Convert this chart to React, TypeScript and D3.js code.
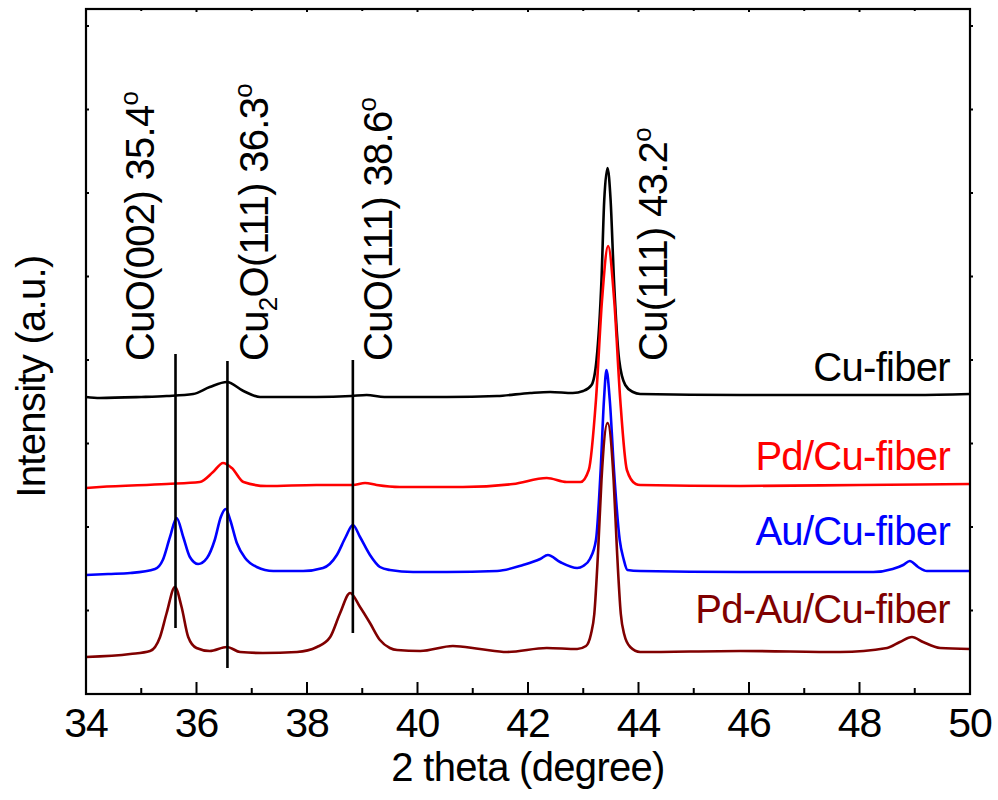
import React from 'react';
import * as d3 from 'd3';

// 2 theta (degree) vs intensity (a.u., offset stacked traces)
const thetaMajor = [34, 36, 38, 40, 42, 44, 46, 48, 50];
const thetaMinor = [35, 37, 39, 41, 43, 45, 47, 49];
const intensityTicks = [83.5, 167, 250.5, 334, 417.5, 501, 584.5, 668];

const cuFiber: [number, number][] = [
  [34.0, 297], [34.25, 296], [35.0, 297], [35.46, 298], [35.94, 300], [36.24, 307],
  [36.55, 312], [36.85, 303], [37.15, 297], [38.17, 297], [38.8, 298], [39.08, 299],
  [39.4, 297], [40.53, 297], [41.44, 298], [42.04, 301], [42.4, 302], [42.81, 301],
  [43.0, 303], [43.15, 309], [43.24, 334], [43.33, 414], [43.38, 494], [43.44, 526],
  [43.495, 494], [43.556, 414], [43.65, 334], [43.76, 309], [43.9, 302], [44.03, 300],
  [45.84, 299], [47.5, 299], [49.0, 299], [50.0, 300],
];

const pdCuFiber: [number, number][] = [
  [34.0, 206], [34.25, 207], [35.46, 210], [36.06, 212], [36.3, 222], [36.48, 231],
  [36.64, 226], [36.85, 212], [37.27, 208], [38.17, 209], [38.83, 209], [39.05, 211],
  [39.26, 209], [39.68, 207], [40.82, 207], [41.73, 210], [42.34, 216], [42.7, 212],
  [42.95, 212], [43.1, 224], [43.23, 294], [43.34, 394], [43.45, 448], [43.56, 394],
  [43.67, 294], [43.79, 224], [43.95, 210], [44.03, 209], [45.84, 208], [48.0, 209],
  [50.0, 210],
];

const auCuFiber: [number, number][] = [
  [34.0, 119], [34.4, 120], [34.8, 121], [35.25, 125], [35.39, 134], [35.52, 157],
  [35.64, 176], [35.76, 157], [35.88, 137], [36.03, 130], [36.19, 136], [36.33, 154],
  [36.44, 177], [36.53, 185], [36.61, 174], [36.73, 151], [36.88, 136], [37.09, 127],
  [37.39, 123], [37.93, 123], [38.29, 126], [38.54, 139], [38.7, 157], [38.83, 169],
  [38.96, 157], [39.14, 139], [39.32, 127], [39.5, 124], [39.92, 122], [40.53, 122],
  [41.44, 123], [41.91, 129], [42.22, 135], [42.36, 139], [42.58, 132], [42.89, 126],
  [43.0, 128], [43.12, 135], [43.23, 154], [43.315, 224], [43.375, 294], [43.42, 324],
  [43.48, 294], [43.556, 224], [43.66, 154], [43.73, 135], [43.8, 124], [44.03, 123],
  [45.84, 122], [47.05, 122], [48.25, 122], [48.6, 125], [48.79, 129], [48.91, 133],
  [49.06, 127], [49.22, 123], [50.0, 123],
];

const pdAuCuFiber: [number, number][] = [
  [34.0, 37], [34.8, 40], [35.16, 43], [35.34, 57], [35.46, 81], [35.61, 107],
  [35.73, 87], [35.85, 57], [36.0, 46], [36.24, 43], [36.55, 47], [36.79, 42],
  [37.2, 41], [37.82, 42], [38.18, 47], [38.42, 57], [38.6, 81], [38.78, 101],
  [38.96, 87], [39.14, 71], [39.32, 54], [39.5, 46], [39.63, 44], [40.05, 43],
  [40.64, 48], [41.13, 45], [41.62, 42], [42.34, 46], [42.89, 45], [43.05, 48],
  [43.14, 60], [43.2, 80], [43.27, 144], [43.33, 214], [43.44, 271], [43.55, 214],
  [43.61, 144], [43.68, 80], [43.74, 60], [43.85, 47], [44.03, 42], [45.84, 43],
  [47.65, 42], [48.5, 46], [48.73, 52], [48.95, 57], [49.15, 52], [49.46, 46],
  [50.0, 45],
];

// reference lines: theta, top, bottom (a.u.)
const refLines: [number, number, number][] = [
  [35.62, 340, 66],
  [36.56, 333, 26],
  [38.83, 334, 61],
];

const series = [
  { name: 'Cu-fiber', color: '#000000', data: cuFiber, labelAt: 313 },
  { name: 'Pd/Cu-fiber', color: '#ff0000', data: pdCuFiber, labelAt: 224 },
  { name: 'Au/Cu-fiber', color: '#0000ff', data: auCuFiber, labelAt: 149 },
  { name: 'Pd-Au/Cu-fiber', color: '#800000', data: pdAuCuFiber, labelAt: 71 },
];

const W = 998;
const H = 800;
const margin = { top: 9, right: 28, bottom: 106, left: 86 };
const font = '"Liberation Sans", Arial, sans-serif';
const fs = 40;
const ls = -0.7;

export default function App() {
  const x = d3.scaleLinear().domain([34, 50]).range([margin.left, W - margin.right]);
  const y = d3.scaleLinear().domain([0, 685]).range([H - margin.bottom, margin.top]);
  const line = d3
    .line<[number, number]>()
    .x(d => x(d[0]))
    .y(d => y(d[1]))
    .curve(d3.curveMonotoneX);

  const x0 = x(34);
  const x1 = x(50);
  const y0 = y(0);
  const y1 = y(685);

  const labelStart = y(333);
  const peakLabels = [
    { theta: 35.23, parts: ['CuO(002) 35.4'] },
    { theta: 37.29, parts: ['Cu', '2', 'O(111) 36.3'] },
    { theta: 39.54, parts: ['CuO(111) 38.6'] },
    { theta: 44.52, parts: ['Cu(111) 43.2'] },
  ];

  return (
    <svg
      width={W}
      height={H}
      style={{ position: 'absolute', left: 0, top: 0, background: '#fff' }}
      fontFamily={font}
    >
      {/* traces */}
      {series.map(s => (
        <path key={s.name} d={line(s.data) || ''} fill="none" stroke={s.color} strokeWidth={2.6} strokeLinejoin="round" />
      ))}

      {/* reference lines */}
      {refLines.map(([t, top, bot]) => (
        <line key={t} x1={x(t)} x2={x(t)} y1={y(top)} y2={y(bot)} stroke="#000" strokeWidth={2.6} />
      ))}

      {/* peak labels */}
      {peakLabels.map(l => (
        <text
          key={l.theta}
          transform={`translate(${x(l.theta)},${labelStart}) rotate(-90)`}
          fontSize={fs}
          letterSpacing={ls}
          fill="#000"
        >
          {l.parts.length === 3 ? (
            <>
              {l.parts[0]}
              <tspan fontSize={26} dy={9}>{l.parts[1]}</tspan>
              <tspan dy={-9}>{l.parts[2]}</tspan>
            </>
          ) : (
            l.parts[0]
          )}
          <tspan fontSize={26} dy={-16}>o</tspan>
        </text>
      ))}

      {/* series labels */}
      {series.map(s => (
        <text key={s.name} x={950} y={y(s.labelAt)} textAnchor="end" fontSize={fs} letterSpacing={ls} fill={s.color}>
          {s.name}
        </text>
      ))}

      {/* frame */}
      <rect x={x0} y={y1} width={x1 - x0} height={y0 - y1} fill="none" stroke="#000" strokeWidth={2.2} />

      {/* bottom & top ticks */}
      {thetaMajor.map(t => (
        <g key={'M' + t}>
          <line x1={x(t)} x2={x(t)} y1={y0} y2={y0 - 12} stroke="#000" strokeWidth={2} />
          <line x1={x(t)} x2={x(t)} y1={y1} y2={y1 + 3} stroke="#000" strokeWidth={2} />
          <text x={x(t)} y={737} textAnchor="middle" fontSize={41} letterSpacing={-1}>
            {t}
          </text>
        </g>
      ))}
      {thetaMinor.map(t => (
        <g key={'m' + t}>
          <line x1={x(t)} x2={x(t)} y1={y0} y2={y0 - 6} stroke="#000" strokeWidth={2} />
          <line x1={x(t)} x2={x(t)} y1={y1} y2={y1 + 2} stroke="#000" strokeWidth={2} />
        </g>
      ))}

      {/* left & right ticks */}
      {intensityTicks.map(v => (
        <g key={'y' + v}>
          <line x1={x0} x2={x0 + 3} y1={y(v)} y2={y(v)} stroke="#000" strokeWidth={2} />
          <line x1={x1} x2={x1 + 3} y1={y(v)} y2={y(v)} stroke="#000" strokeWidth={2} />
        </g>
      ))}

      {/* axis titles */}
      <text x={(x0 + x1) / 2} y={781} textAnchor="middle" fontSize={fs} letterSpacing={ls}>
        2 theta (degree)
      </text>
      <text transform={`translate(45,${(y0 + y1) / 2 + 25}) rotate(-90)`} textAnchor="middle" fontSize={fs} letterSpacing={ls}>
        Intensity (a.u.)
      </text>
    </svg>
  );
}
